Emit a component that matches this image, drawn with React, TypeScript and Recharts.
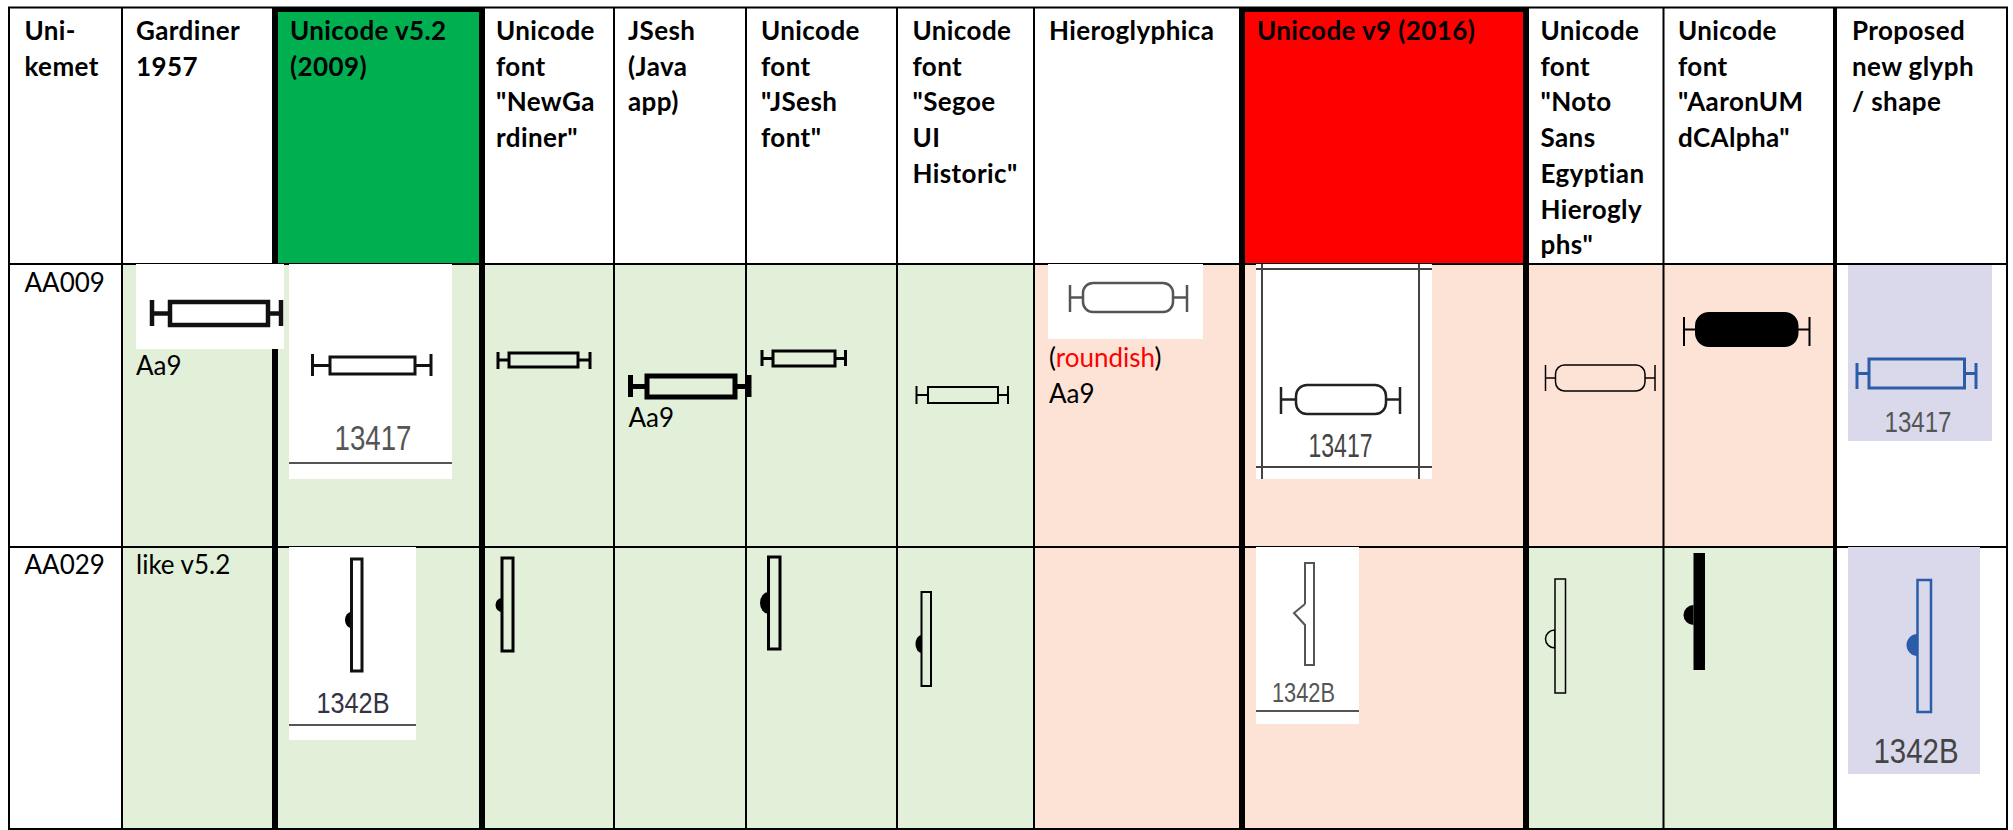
import { ReferenceArea, Scatter, ScatterChart, XAxis, YAxis } from "recharts";

const WIDTH = 2013;
const HEIGHT = 830;
const SANS = "Lato";
const NUM = "'Liberation Sans'";

// table structure, in picture pixels (the axes map them 1:1)
const thinRules = [9, 122, 614, 746, 897, 1034, 1663.5, 2007];
const heavyRules = [275, 482, 1242, 1526];
const rowRules = [264, 547, 829];
const rowTops = [264, 547];
const rowBottoms = [547, 829];
const columnLefts = [9, 122, 275, 482, 614, 746, 897, 1034, 1242, 1526, 1663.5, 1835];
const columnRights = [122, 275, 482, 614, 746, 897, 1034, 1242, 1526, 1663.5, 1835, 2007];

const GREEN = "#E2EFD9";
const PEACH = "#FCE3D6";
const WHITE = "#FFFFFF";
const LAVENDER = "#DAD9EC";
const INK = "#000000";
const GRAY = "#555555";
const BLUE = "#2A5CA8";

const rowFills = [
  [WHITE, GREEN, GREEN, GREEN, GREEN, GREEN, GREEN, PEACH, PEACH, PEACH, PEACH, WHITE],
  [WHITE, GREEN, GREEN, GREEN, GREEN, GREEN, GREEN, PEACH, PEACH, GREEN, GREEN, WHITE],
];

const headerLines = [
  ["Uni-", "kemet"],
  ["Gardiner", "1957"],
  ["Unicode v5.2", "(2009)"],
  ["Unicode", "font", '"NewGa', 'rdiner"'],
  ["JSesh", "(Java", "app)"],
  ["Unicode", "font", '"JSesh', 'font"'],
  ["Unicode", "font", '"Segoe', "UI", 'Historic"'],
  ["Hieroglyphica"],
  ["Unicode v9 (2016)"],
  ["Unicode", "font", '"Noto', "Sans", "Egyptian", "Hierogly", 'phs"'],
  ["Unicode", "font", '"AaronUM', 'dCAlpha"'],
  ["Proposed", "new glyph", "/ shape"],
];
const headerX = [24.5, 136, 290, 496, 628, 761, 912.5, 1049, 1257, 1540.5, 1678, 1852];

const cellLabels = [
  { x: 24.5, y: 292, text: "AA009" },
  { x: 136, y: 375, text: "Aa9" },
  { x: 628.5, y: 427, text: "Aa9" },
  { x: 1049, y: 403, text: "Aa9" },
  { x: 24.5, y: 574, text: "AA029" },
  { x: 136, y: 574, text: "like v5.2" },
];
const roundishLabel = [{ x: 1049, y: 367 }];

// pasted pictures that sit on top of the cells: left, right, top, bottom
const whitePictures = [
  [136, 284, 264, 349],
  [289, 452, 264, 479],
  [1048, 1203, 264, 339],
  [1256, 1432, 264, 479],
  [289, 416, 547, 740],
  [1256, 1359, 547, 724],
];
const lavenderPictures = [
  [1848, 1992, 265, 441],
  [1848, 1980, 547, 774],
];

// thin rules inside pictures: left, right, top, bottom, colour
const pictureRules: [number, number, number, number, string][] = [
  [289, 452, 462, 464, GRAY],
  [289, 416, 724, 726, GRAY],
  [1256, 1359, 710, 712, GRAY],
  [1261, 1263, 264, 479, "#444444"],
  [1418, 1420, 264, 479, "#444444"],
  [1256, 1432, 268, 270, "#444444"],
  [1256, 1432, 466, 468, "#444444"],
];

const numberLabels = [
  { x: 373, y: 450, text: "13417", span: 77, size: 35, color: GRAY },
  { x: 1340.5, y: 457, text: "13417", span: 64, size: 33, color: "#444444" },
  { x: 1918, y: 432, text: "13417", span: 67, size: 30, color: GRAY },
  { x: 353, y: 713, text: "1342B", span: 73, size: 30, color: "#333344" },
  { x: 1303.5, y: 702, text: "1342B", span: 63, size: 28, color: GRAY },
  { x: 1916, y: 763, text: "1342B", span: 85, size: 35, color: "#444444" },
];

// Aa9: barL, boxL, boxR, barR, boxTop, boxBottom, barTop, barBottom, line weight, corner radius
type Cap = { v: number[]; weight: number; radius: number; color: string; fill: string };
const capGlyphs: Cap[] = [
  { v: [152, 170, 268, 281, 302, 325, 300, 326], weight: 4.5, radius: 0, color: "#111111", fill: WHITE },
  { v: [312.5, 330, 415, 431, 357, 374, 354, 376], weight: 3, radius: 0, color: "#111111", fill: WHITE },
  { v: [498, 509, 578, 590, 353, 367, 352, 369], weight: 3, radius: 0, color: INK, fill: GREEN },
  { v: [630.5, 647, 735, 749, 376, 397, 375, 397], weight: 5, radius: 0, color: INK, fill: GREEN },
  { v: [762, 773, 835, 845.5, 351, 366, 350, 366], weight: 3, radius: 0, color: INK, fill: GREEN },
  { v: [916.5, 928, 998, 1008, 387, 403, 386, 404], weight: 2, radius: 0, color: INK, fill: GREEN },
  { v: [1070, 1083, 1173, 1187, 283, 312, 285, 312], weight: 2.5, radius: 10, color: GRAY, fill: WHITE },
  { v: [1281, 1296, 1386, 1400, 385, 414, 387, 414], weight: 2.5, radius: 11, color: "#222222", fill: WHITE },
  { v: [1545.5, 1555.5, 1645, 1655, 365, 391, 365, 391], weight: 1.5, radius: 9, color: INK, fill: "none" },
  { v: [1684, 1696, 1797.5, 1809.5, 313, 346, 317, 346], weight: 2, radius: 13, color: INK, fill: INK },
  { v: [1857, 1869, 1964.5, 1976, 359, 388, 363, 389], weight: 3, radius: 0, color: BLUE, fill: LAVENDER },
];

// Aa29: rodL, rodR, rodTop, rodBottom, bumpL, bumpTop, bumpBottom, line weight
type Rod = { v: number[]; weight: number; color: string; fill: string; bump: string };
const rodGlyphs: Rod[] = [
  { v: [351.5, 362, 559, 671, 345, 612, 628], weight: 3, color: "#111111", fill: WHITE, bump: INK },
  { v: [502, 513, 558, 651, 495.5, 598, 612], weight: 3, color: INK, fill: GREEN, bump: INK },
  { v: [768.5, 780, 557, 649, 760, 592, 614], weight: 3, color: INK, fill: GREEN, bump: INK },
  { v: [921.5, 931, 592, 686, 915.5, 635, 653], weight: 2, color: INK, fill: GREEN, bump: INK },
  { v: [1555, 1565.5, 579, 693, 1545.5, 630, 648], weight: 1.5, color: INK, fill: GREEN, bump: "none" },
  { v: [1693.5, 1705, 553, 670, 1683.5, 605, 625], weight: 0, color: INK, fill: INK, bump: INK },
  { v: [1917.5, 1931, 580, 712, 1906.5, 634, 656], weight: 2.5, color: BLUE, fill: LAVENDER, bump: BLUE },
];

// Unicode 9 shape of Aa29, drawn point by point
const notchedOutline = [
  { x: 1305, y: 604 },
  { x: 1305, y: 563 },
  { x: 1314, y: 563 },
  { x: 1314, y: 665 },
  { x: 1305, y: 665 },
  { x: 1305, y: 625 },
  { x: 1294, y: 613 },
  { x: 1305, y: 604 },
];

const headerPoints = headerLines.flatMap((lines, col) =>
  lines.map((text, i) => ({ x: headerX[col], y: 40 + i * 35.7, text }))
);

const block = (key: string, x1: number, x2: number, y1: number, y2: number, fill: string) => (
  <ReferenceArea key={key} x1={x1} x2={x2} y1={y1} y2={y2} fill={fill} fillOpacity={1} stroke="none" ifOverflow="visible" />
);

const roundBox = (key: string, x1: number, x2: number, y1: number, y2: number, g: Cap) => (
  <ReferenceArea
    key={key}
    x1={x1}
    x2={x2}
    y1={y1}
    y2={y2}
    ifOverflow="visible"
    shape={(p: any) => (
      <rect x={p.x} y={p.y} width={p.width} height={p.height} rx={g.radius} fill={g.fill} stroke={g.color} strokeWidth={g.weight} />
    )}
  />
);

const bump = (key: string, x1: number, x2: number, y1: number, y2: number, g: Rod) => (
  <ReferenceArea
    key={key}
    x1={x1}
    x2={x2}
    y1={y1}
    y2={y2}
    ifOverflow="visible"
    shape={(p: any) => (
      <path
        d={`M${p.x + p.width} ${p.y}A${p.width} ${p.height / 2} 0 0 0 ${p.x + p.width} ${p.y + p.height}Z`}
        fill={g.bump}
        stroke={g.bump === "none" ? g.color : "none"}
        strokeWidth={1.5}
      />
    )}
  />
);

function capMarks(g: Cap, i: number) {
  const [barL, boxL, boxR, barR, top, bottom, barTop, barBottom] = g.v;
  const mid = (top + bottom) / 2;
  const w = g.weight / 2;
  return [
    block(`cl${i}`, barL - w, barL + w, barTop, barBottom, g.color),
    block(`cr${i}`, barR - w, barR + w, barTop, barBottom, g.color),
    block(`sl${i}`, barL, boxL, mid - w, mid + w, g.color),
    block(`sr${i}`, boxR, barR, mid - w, mid + w, g.color),
    roundBox(`cb${i}`, boxL, boxR, top, bottom, g),
  ];
}

function rodMarks(g: Rod, i: number) {
  const [l, r, top, bottom, bumpL, bumpTop, bumpBottom] = g.v;
  return [
    bump(`bp${i}`, bumpL, l, bumpTop, bumpBottom, g),
    <ReferenceArea
      key={`rd${i}`}
      x1={l}
      x2={r}
      y1={top}
      y2={bottom}
      fill={g.fill}
      fillOpacity={1}
      stroke={g.weight ? g.color : "none"}
      strokeWidth={g.weight}
      ifOverflow="visible"
    />,
  ];
}

const BoldText = (p: any) => (
  <text x={p.cx} y={p.cy} fontFamily={SANS} fontWeight={700} fontSize={26} letterSpacing={0.4} fill={INK}>
    {p.payload.text}
  </text>
);

const PlainText = (p: any) => (
  <text x={p.cx} y={p.cy} fontFamily={SANS} fontSize={26} fill={INK}>
    {p.payload.text}
  </text>
);

const RoundishText = (p: any) => (
  <text x={p.cx} y={p.cy} fontFamily={SANS} fontSize={26} fill={INK}>
    (<tspan fill="#FF0000">roundish</tspan>)
  </text>
);

const NumberText = (p: any) => (
  <text
    x={p.cx}
    y={p.cy}
    textAnchor="middle"
    fontFamily={NUM}
    fontSize={p.payload.size}
    fill={p.payload.color}
    textLength={p.payload.span}
    lengthAdjust="spacingAndGlyphs"
  >
    {p.payload.text}
  </text>
);

export default function App() {
  return (
    <div style={{ position: "absolute", left: 0, top: 0, width: WIDTH, height: HEIGHT, background: WHITE }}>
      <ScatterChart width={WIDTH} height={HEIGHT} margin={{ top: 0, right: 0, bottom: 0, left: 0 }}>
        <XAxis type="number" dataKey="x" domain={[0, WIDTH]} hide allowDataOverflow />
        <YAxis type="number" dataKey="y" domain={[0, HEIGHT]} reversed hide allowDataOverflow />

        {block("head-green", 275, 482, 8, 264, "#00B050")}
        {block("head-red", 1242, 1526, 8, 264, "#FF0000")}
        {rowFills.flatMap((fills, r) =>
          fills.map((fill, c) => block(`cell${r}-${c}`, columnLefts[c], columnRights[c], rowTops[r], rowBottoms[r], fill))
        )}

        {block("top-rule", 8, 2008, 6.5, 8.5, INK)}
        {block("top-heavy-a", 272, 485, 7, 12, INK)}
        {block("top-heavy-b", 1239, 1529, 7, 12, INK)}
        {rowRules.map((y) => block(`row${y}`, 8, 2008, y - 1, y + 1, INK))}
        {thinRules.map((x) => block(`thin${x}`, x - 1, x + 1, 7, 830, INK))}
        {heavyRules.map((x) => block(`heavy${x}`, x - 3, x + 3, 7, 830, INK))}
        {block("rule-proposed", 1833, 1837, 7, 830, INK)}

        {whitePictures.map((p, i) => block(`pic${i}`, p[0], p[1], p[2], p[3], WHITE))}
        {lavenderPictures.map((p, i) => block(`lav${i}`, p[0], p[1], p[2], p[3], LAVENDER))}
        {pictureRules.map((p, i) => block(`pr${i}`, p[0], p[1], p[2], p[3], p[4]))}

        {capGlyphs.flatMap(capMarks)}
        {rodGlyphs.flatMap(rodMarks)}

        <Scatter data={notchedOutline} line={{ stroke: GRAY, strokeWidth: 2 }} shape={() => null} isAnimationActive={false} />
        <Scatter data={headerPoints} shape={BoldText} isAnimationActive={false} />
        <Scatter data={cellLabels} shape={PlainText} isAnimationActive={false} />
        <Scatter data={roundishLabel} shape={RoundishText} isAnimationActive={false} />
        <Scatter data={numberLabels} shape={NumberText} isAnimationActive={false} />
      </ScatterChart>
    </div>
  );
}
